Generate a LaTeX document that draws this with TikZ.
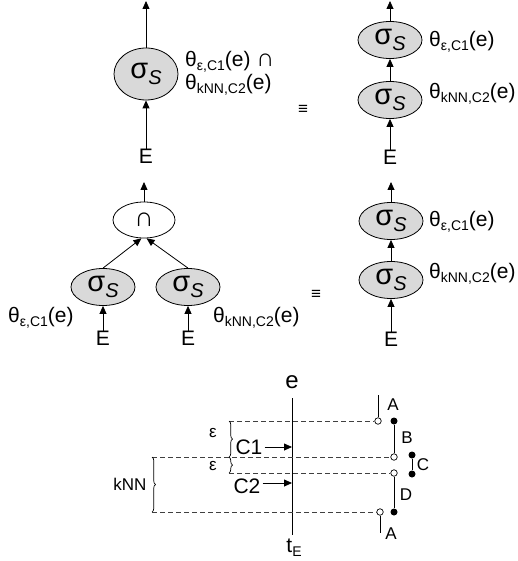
\documentclass[tikz,border=0pt]{standalone}
\usepackage{fontspec}
\setmainfont{Liberation Sans}
\usetikzlibrary{arrows.meta,shapes.geometric,decorations.pathreplacing}

% subscripts and the selection symbol
\newcommand\lowsub[1]{\raisebox{-4pt}{\fontsize{14}{14}\selectfont #1}}
\newcommand\thetaeps{θ\lowsub{ε,C1}(e)}
\newcommand\thetaknn{θ\lowsub{kNN,C2}(e)}
\newcommand\sigsel{\fontsize{29}{29}\selectfont σ\raisebox{-6pt}{\fontsize{20}{20}\selectfont\itshape S}}
\newcommand\capsign{{\fontsize{25}{23}\selectfont ∩}}

\begin{document}
\begin{tikzpicture}[x=1pt,y=-1pt,
  sel/.style={ellipse,draw,fill=black!15,minimum width=64pt,minimum height=37pt,inner sep=0pt,line width=0.8pt},
  capnode/.style={ellipse,draw,fill=white,minimum width=62pt,minimum height=36pt,inner sep=0pt,line width=0.8pt,font=\fontsize{27}{27}\selectfont},
  arr/.style={-{Triangle[length=8pt,width=7pt]},line width=0.8pt},
  lbl/.style={font=\fontsize{21}{22}\selectfont,inner sep=0pt},
  cond/.style={font=\fontsize{21}{23}\selectfont,inner sep=0pt,anchor=west,align=left},
  equiv/.style={font=\fontsize{17}{17}\selectfont,inner sep=0pt},
  small/.style={font=\fontsize{17}{17}\selectfont,inner sep=0pt},
  dashln/.style={dash pattern=on 5pt off 3pt,line width=0.8pt,black!75},
  open/.style={circle,draw,fill=white,minimum size=6.5pt,inner sep=0pt,line width=0.7pt},
  dot/.style={circle,fill=black,minimum size=7pt,inner sep=0pt},
  bracel/.style={decorate,decoration={brace,amplitude=3.5pt},line width=0.7pt}
]
\useasboundingbox (0,0) rectangle (517,561);

% ---- combined condition, single selection ----
\node[sel,minimum height=52pt] (s0) at (146,74) {\sigsel};
\coordinate (s0out) at (146,1);
\node[lbl] (e0) at (146,156) {E};
\draw[arr] (s0.north) -- (s0out);
\draw[arr] (e0.north) -- (s0.south);
\node[cond] (c0) at (185,73) {\thetaeps\ \capsign\\\thetaknn};
\node[equiv] (q0) at (303,110) {≡};

% ---- cascaded selections ----
\node[sel] (s1) at (390,40) {\sigsel};
\node[sel] (s2) at (390,100) {\sigsel};
\coordinate (s1out) at (390,1);
\node[lbl] (e1) at (390,157) {E};
\draw[arr] (s1.north) -- (s1out);
\draw[arr] (s2.north) -- (s1.south);
\draw[arr] (e1.north) -- (s2.south);
\node[cond] (c1) at (429,42) {\thetaeps};
\node[cond] (c2) at (429,94) {\thetaknn};

% ---- intersection of two selections ----
\node[capnode] (cap) at (144,220) {∩};
\coordinate (capout) at (144,182);
\draw[arr] (cap.north) -- (capout);
\node[sel] (sl) at (103,287) {\sigsel};
\node[sel] (sr) at (188,287) {\sigsel};
\draw[arr] (sl.north) -- (cap.262);
\draw[arr] (sr.north) -- (cap.278);
\node[lbl] (el) at (103,338) {E};
\node[lbl] (er) at (188,338) {E};
\draw[arr] (el.north) -- (sl.south);
\draw[arr] (er.north) -- (sr.south);
\node[cond] (cl) at (8,318) {\thetaeps};
\node[cond] (cr) at (213,318) {\thetaknn};
\node[equiv] (q1) at (316,295) {≡};

% ---- cascaded selections, second case ----
\node[sel] (s3) at (391,221) {\sigsel};
\node[sel] (s4) at (391,280) {\sigsel};
\coordinate (s3out) at (391,182);
\node[lbl] (e3) at (391,339) {E};
\draw[arr] (s3.north) -- (s3out);
\draw[arr] (s4.north) -- (s3.south);
\draw[arr] (e3.north) -- (s4.south);
\node[cond] (c3) at (429,222) {\thetaeps};
\node[cond] (c4) at (429,274) {\thetaknn};

% ---- time axis with the epsilon and kNN ranges ----
\node[font=\fontsize{24}{24}\selectfont,inner sep=0pt] (elab) at (292,382) {e};
\coordinate (ltop) at (292,398);
\coordinate (lbot) at (292,535);
\draw[line width=0.8pt] (ltop) -- (lbot);
\node[font=\fontsize{21}{21}\selectfont,inner sep=0pt] (tE) at (294,548) {t\lowsub{E}};

% interval end points
\node[open] (oa) at (378,421) {};
\node[dot]  (da) at (394,421) {};
\node[open] (ob) at (394,457) {};
\node[dot]  (dc1) at (412,455) {};
\node[dot]  (dc2) at (412,474) {};
\node[open] (od) at (394,473) {};
\node[dot]  (dd) at (394,512) {};
\node[open] (oe) at (380,512) {};
\coordinate (atop) at (378,395);
\coordinate (abot) at (380,533);

% dashed range borders
\coordinate (b1) at (229,421);
\coordinate (b2) at (152,457);
\coordinate (b3) at (229,473);
\coordinate (b4) at (152,512);
\draw[dashln] (b1) -- (oa.west);
\draw[dashln] (b2) -- (ob.west);
\draw[dashln] (b3) -- (od.west);
\draw[dashln] (b4) -- (oe.west);

% intervals
\draw[line width=0.8pt] (oa.north) -- (atop);
\draw[line width=0.8pt] (da) -- (ob.north);
\draw[line width=0.8pt] (dc1) -- (dc2);
\draw[line width=0.8pt] (od.south) -- (dd);
\draw[line width=0.8pt] (oe.south) -- (abot);
\node[small] (la1) at (393,405) {A};
\node[small] (lb) at (407,438) {B};
\node[small] (lc) at (423,465) {C};
\node[small] (ld) at (406,495) {D};
\node[small] (la2) at (391,534) {A};

% braces
\coordinate (b2e) at (229,457);
\draw[bracel] (b1) -- (b2e);
\draw[bracel] (b2e) -- (b3);
\draw[bracel] (b2) -- (b4);
\node[small] (eps1) at (213,433) {ε};
\node[small] (eps2) at (213,466) {ε};
\node[small] (knn) at (130,484) {kNN};

% positions of the two conditions on the axis
\node[lbl] (lc1) at (249,447) {C1};
\node[lbl] (lc2) at (247,486) {C2};
\coordinate (h1) at (292,447);
\coordinate (h2) at (292,483);
\draw[arr] ([xshift=2pt]lc1.east) -- (h1);
\draw[arr] ([xshift=2pt]lc2.east |- h2) -- (h2);
\end{tikzpicture}
\end{document}
